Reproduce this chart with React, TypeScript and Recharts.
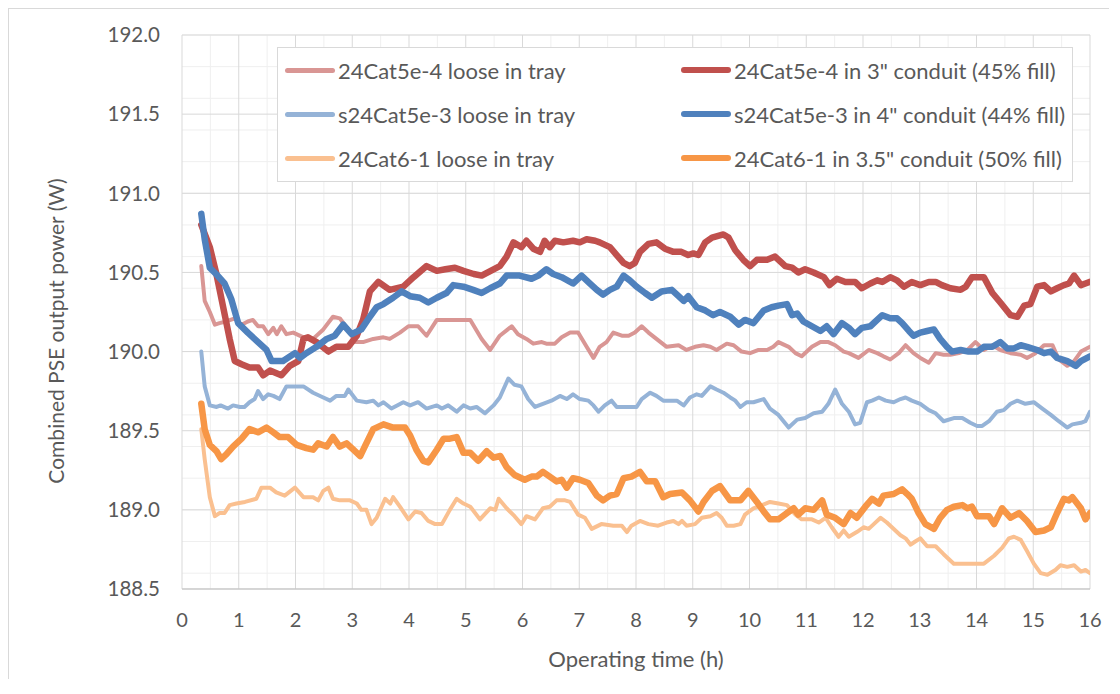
import React from 'react';
import { LineChart, Line, XAxis, YAxis, CartesianGrid, Legend, Label } from 'recharts';

// time (h) and combined PSE output power (W), read per series
const loose5e4Time = [0.34, 0.4, 0.49, 0.58, 0.66, 0.78, 0.93, 1.05, 1.16, 1.25, 1.34, 1.43, 1.52, 1.61, 1.67, 1.75, 1.84, 1.96, 2.14, 2.31, 2.49, 2.66, 2.78, 2.93, 3.05, 3.19, 3.37, 3.55, 3.66, 3.84, 3.99, 4.16, 4.31, 4.49, 4.78, 5.08, 5.28, 5.43, 5.6, 5.81, 5.92, 6.07, 6.19, 6.34, 6.42, 6.57, 6.69, 6.84, 6.98, 7.13, 7.25, 7.36, 7.48, 7.6, 7.75, 7.87, 7.98, 8.1, 8.22, 8.36, 8.54, 8.75, 8.89, 9.04, 9.19, 9.31, 9.42, 9.6, 9.72, 9.86, 10.01, 10.16, 10.31, 10.42, 10.51, 10.69, 10.81, 10.92, 11.1, 11.25, 11.39, 11.51, 11.66, 11.75, 11.92, 12.1, 12.25, 12.36, 12.48, 12.63, 12.75, 12.89, 13.01, 13.16, 13.28, 13.42, 13.54, 13.69, 13.84, 13.98, 14.13, 14.28, 14.42, 14.6, 14.78, 14.89, 15.04, 15.19, 15.34, 15.45, 15.6, 15.72, 15.84, 16.0];
const loose5e4Power = [190.54, 190.32, 190.25, 190.17, 190.18, 190.19, 190.21, 190.17, 190.19, 190.2, 190.16, 190.16, 190.11, 190.15, 190.11, 190.16, 190.11, 190.12, 190.09, 190.08, 190.14, 190.22, 190.21, 190.14, 190.06, 190.06, 190.08, 190.09, 190.08, 190.12, 190.16, 190.16, 190.1, 190.2, 190.2, 190.2, 190.08, 190.01, 190.1, 190.16, 190.11, 190.08, 190.05, 190.06, 190.05, 190.05, 190.09, 190.12, 190.12, 190.03, 189.96, 190.03, 190.06, 190.12, 190.1, 190.1, 190.12, 190.16, 190.12, 190.08, 190.03, 190.04, 190.01, 190.03, 190.04, 190.03, 190.01, 190.05, 190.04, 190.0, 189.99, 190.01, 190.01, 190.03, 190.06, 190.03, 189.99, 189.97, 190.03, 190.06, 190.06, 190.04, 190.0, 189.99, 189.96, 190.01, 189.99, 189.97, 189.95, 189.99, 190.04, 189.99, 189.96, 189.93, 189.99, 189.98, 189.98, 189.99, 190.01, 190.06, 190.01, 190.04, 190.01, 189.99, 189.98, 189.96, 189.99, 190.04, 190.04, 189.95, 189.91, 189.94, 190.0, 190.03];

const conduit5e4Time = [0.34, 0.49, 0.6, 0.72, 0.84, 0.93, 1.05, 1.19, 1.34, 1.43, 1.55, 1.75, 1.9, 2.05, 2.14, 2.22, 2.37, 2.58, 2.72, 2.93, 3.08, 3.19, 3.31, 3.46, 3.66, 3.9, 4.08, 4.31, 4.49, 4.64, 4.81, 4.96, 5.14, 5.28, 5.49, 5.6, 5.72, 5.84, 5.98, 6.07, 6.19, 6.31, 6.39, 6.48, 6.57, 6.72, 6.89, 7.01, 7.13, 7.28, 7.36, 7.54, 7.66, 7.78, 7.89, 7.98, 8.07, 8.22, 8.36, 8.51, 8.66, 8.8, 8.92, 9.01, 9.1, 9.22, 9.34, 9.54, 9.63, 9.75, 9.89, 10.01, 10.13, 10.31, 10.45, 10.57, 10.63, 10.75, 10.86, 10.98, 11.13, 11.31, 11.41, 11.54, 11.69, 11.86, 11.98, 12.13, 12.25, 12.34, 12.48, 12.6, 12.72, 12.86, 13.01, 13.16, 13.28, 13.39, 13.54, 13.72, 13.81, 13.92, 14.13, 14.28, 14.42, 14.6, 14.72, 14.84, 14.95, 15.07, 15.19, 15.31, 15.42, 15.54, 15.63, 15.72, 15.84, 15.92, 16.0];
const conduit5e4Power = [190.8, 190.66, 190.5, 190.29, 190.08, 189.94, 189.92, 189.9, 189.9, 189.85, 189.88, 189.85, 189.91, 189.94, 190.08, 190.09, 190.06, 190.0, 190.03, 190.03, 190.1, 190.2, 190.38, 190.44, 190.39, 190.41, 190.47, 190.54, 190.51, 190.52, 190.53, 190.51, 190.49, 190.48, 190.52, 190.54, 190.6, 190.69, 190.66, 190.7, 190.65, 190.63, 190.7, 190.66, 190.7, 190.69, 190.7, 190.69, 190.71, 190.7, 190.69, 190.66, 190.61, 190.56, 190.54, 190.56, 190.63, 190.68, 190.69, 190.65, 190.63, 190.63, 190.61, 190.62, 190.61, 190.69, 190.72, 190.74, 190.72, 190.64, 190.58, 190.54, 190.58, 190.58, 190.6, 190.56, 190.54, 190.53, 190.5, 190.52, 190.5, 190.47, 190.42, 190.46, 190.44, 190.44, 190.4, 190.43, 190.45, 190.44, 190.47, 190.45, 190.41, 190.44, 190.42, 190.44, 190.44, 190.42, 190.4, 190.39, 190.41, 190.47, 190.47, 190.37, 190.31, 190.23, 190.22, 190.29, 190.3, 190.41, 190.42, 190.38, 190.4, 190.42, 190.43, 190.48, 190.42, 190.43, 190.44];

const loose5e3Time = [0.34, 0.4, 0.49, 0.61, 0.68, 0.81, 0.9, 1.02, 1.1, 1.19, 1.28, 1.34, 1.43, 1.52, 1.61, 1.72, 1.84, 2.14, 2.31, 2.49, 2.61, 2.72, 2.87, 2.93, 3.08, 3.25, 3.37, 3.46, 3.55, 3.69, 3.9, 4.02, 4.16, 4.31, 4.49, 4.58, 4.69, 4.84, 4.96, 5.08, 5.19, 5.34, 5.49, 5.6, 5.75, 5.86, 5.98, 6.1, 6.22, 6.36, 6.51, 6.66, 6.78, 6.89, 7.01, 7.16, 7.25, 7.34, 7.45, 7.57, 7.66, 8.01, 8.1, 8.25, 8.36, 8.48, 8.72, 8.84, 8.95, 9.07, 9.16, 9.31, 9.42, 9.54, 9.66, 9.75, 9.84, 9.95, 10.07, 10.25, 10.36, 10.51, 10.69, 10.84, 10.98, 11.13, 11.28, 11.39, 11.51, 11.63, 11.75, 11.86, 11.95, 12.07, 12.16, 12.28, 12.4, 12.54, 12.66, 12.75, 12.86, 13.01, 13.16, 13.28, 13.42, 13.6, 13.75, 13.89, 14.01, 14.1, 14.22, 14.36, 14.48, 14.6, 14.72, 14.86, 15.01, 15.16, 15.31, 15.45, 15.6, 15.69, 15.84, 15.92, 16.0];
const loose5e3Power = [190.0, 189.78, 189.66, 189.65, 189.66, 189.64, 189.66, 189.65, 189.65, 189.68, 189.7, 189.75, 189.7, 189.73, 189.72, 189.7, 189.78, 189.78, 189.74, 189.71, 189.69, 189.72, 189.72, 189.76, 189.69, 189.68, 189.69, 189.66, 189.68, 189.64, 189.68, 189.66, 189.68, 189.64, 189.66, 189.64, 189.66, 189.62, 189.66, 189.64, 189.65, 189.61, 189.66, 189.71, 189.83, 189.79, 189.78, 189.7, 189.65, 189.67, 189.69, 189.72, 189.7, 189.73, 189.7, 189.69, 189.66, 189.62, 189.66, 189.69, 189.65, 189.65, 189.7, 189.74, 189.72, 189.69, 189.69, 189.66, 189.71, 189.73, 189.72, 189.78, 189.76, 189.74, 189.71, 189.69, 189.65, 189.68, 189.68, 189.7, 189.64, 189.6, 189.52, 189.57, 189.58, 189.61, 189.62, 189.67, 189.76, 189.67, 189.62, 189.54, 189.55, 189.68, 189.69, 189.71, 189.69, 189.68, 189.7, 189.71, 189.69, 189.67, 189.63, 189.61, 189.56, 189.58, 189.58, 189.55, 189.53, 189.53, 189.56, 189.62, 189.63, 189.67, 189.69, 189.67, 189.68, 189.64, 189.6, 189.56, 189.52, 189.54, 189.55, 189.56, 189.62];

const conduit5e3Time = [0.34, 0.4, 0.49, 0.6, 0.75, 0.87, 0.99, 1.16, 1.34, 1.49, 1.58, 1.78, 1.99, 2.08, 2.19, 2.37, 2.55, 2.69, 2.84, 2.99, 3.16, 3.31, 3.43, 3.55, 3.72, 3.87, 4.02, 4.19, 4.34, 4.49, 4.66, 4.78, 4.96, 5.13, 5.28, 5.43, 5.6, 5.72, 5.95, 6.16, 6.28, 6.42, 6.54, 6.69, 6.89, 7.04, 7.19, 7.31, 7.42, 7.54, 7.66, 7.78, 7.89, 8.01, 8.16, 8.28, 8.45, 8.63, 8.75, 8.84, 8.92, 9.07, 9.22, 9.36, 9.48, 9.66, 9.81, 9.92, 10.07, 10.25, 10.39, 10.51, 10.66, 10.75, 10.84, 10.95, 11.1, 11.25, 11.36, 11.48, 11.63, 11.75, 11.86, 11.98, 12.13, 12.25, 12.34, 12.48, 12.6, 12.69, 12.81, 12.89, 13.01, 13.13, 13.25, 13.36, 13.48, 13.57, 13.72, 13.86, 14.01, 14.13, 14.28, 14.42, 14.54, 14.66, 14.78, 14.89, 15.07, 15.19, 15.31, 15.42, 15.6, 15.75, 15.84, 16.0];
const conduit5e3Power = [190.87, 190.71, 190.53, 190.49, 190.43, 190.33, 190.18, 190.12, 190.06, 190.01, 189.94, 189.94, 189.99, 189.96, 189.99, 190.03, 190.08, 190.1, 190.17, 190.11, 190.14, 190.22, 190.28, 190.3, 190.34, 190.38, 190.35, 190.34, 190.31, 190.34, 190.37, 190.42, 190.41, 190.39, 190.37, 190.4, 190.43, 190.48, 190.48, 190.46, 190.48, 190.52, 190.49, 190.47, 190.43, 190.48, 190.43, 190.39, 190.36, 190.39, 190.41, 190.48, 190.45, 190.41, 190.37, 190.34, 190.38, 190.39, 190.35, 190.32, 190.35, 190.28, 190.26, 190.23, 190.25, 190.22, 190.17, 190.2, 190.18, 190.26, 190.28, 190.29, 190.3, 190.23, 190.24, 190.19, 190.16, 190.13, 190.16, 190.11, 190.18, 190.15, 190.11, 190.15, 190.16, 190.2, 190.23, 190.21, 190.21, 190.18, 190.13, 190.1, 190.12, 190.13, 190.14, 190.08, 190.03, 190.0, 190.01, 190.0, 190.0, 190.03, 190.03, 190.06, 190.02, 190.02, 190.04, 190.03, 190.01, 189.99, 190.0, 189.96, 189.94, 189.91, 189.94, 189.97];

const loose6Time = [0.34, 0.4, 0.49, 0.58, 0.66, 0.75, 0.84, 0.96, 1.11, 1.31, 1.4, 1.55, 1.66, 1.81, 1.99, 2.14, 2.31, 2.4, 2.49, 2.58, 2.66, 2.78, 2.96, 3.08, 3.16, 3.25, 3.34, 3.43, 3.58, 3.67, 3.72, 3.84, 3.99, 4.11, 4.22, 4.34, 4.46, 4.58, 4.72, 4.84, 4.96, 5.08, 5.25, 5.43, 5.52, 5.58, 5.72, 5.86, 5.98, 6.07, 6.22, 6.36, 6.48, 6.6, 6.75, 6.84, 6.98, 7.1, 7.22, 7.39, 7.6, 7.75, 7.84, 7.92, 8.07, 8.22, 8.39, 8.54, 8.66, 8.75, 8.81, 8.89, 9.04, 9.16, 9.31, 9.42, 9.51, 9.6, 9.72, 9.84, 9.92, 10.07, 10.22, 10.36, 10.51, 10.66, 10.81, 10.92, 11.1, 11.22, 11.34, 11.45, 11.57, 11.66, 11.75, 11.89, 12.01, 12.1, 12.19, 12.31, 12.42, 12.57, 12.66, 12.75, 12.84, 12.92, 13.01, 13.13, 13.28, 13.42, 13.6, 13.75, 13.92, 14.13, 14.31, 14.45, 14.57, 14.66, 14.78, 14.89, 15.01, 15.13, 15.25, 15.39, 15.48, 15.6, 15.72, 15.84, 15.92, 16.0];
const loose6Power = [189.51, 189.32, 189.08, 188.96, 188.98, 188.98, 189.03, 189.04, 189.05, 189.07, 189.14, 189.14, 189.11, 189.09, 189.14, 189.08, 189.08, 189.06, 189.12, 189.14, 189.07, 189.06, 189.06, 189.04, 189.0, 189.0, 188.91, 188.95, 189.07, 189.04, 189.08, 189.02, 188.94, 188.99, 188.98, 188.93, 188.91, 188.91, 189.0, 189.07, 189.04, 189.02, 188.94, 189.01, 189.0, 189.07, 189.01, 188.96, 188.91, 188.96, 188.94, 189.01, 189.02, 189.06, 189.06, 189.05, 188.97, 188.95, 188.88, 188.91, 188.9, 188.9, 188.86, 188.9, 188.93, 188.91, 188.9, 188.92, 188.93, 188.91, 188.93, 188.9, 188.91, 188.95, 188.96, 188.98, 188.95, 188.9, 188.9, 188.91, 188.97, 189.01, 189.03, 189.05, 189.04, 189.03, 188.97, 188.94, 188.94, 188.92, 188.95, 188.89, 188.83, 188.87, 188.83, 188.86, 188.89, 188.88, 188.91, 188.95, 188.92, 188.87, 188.84, 188.82, 188.78, 188.8, 188.82, 188.77, 188.77, 188.72, 188.66, 188.66, 188.66, 188.66, 188.71, 188.76, 188.82, 188.83, 188.81, 188.74, 188.66, 188.6, 188.59, 188.62, 188.65, 188.64, 188.65, 188.61, 188.62, 188.6];

const conduit6Time = [0.34, 0.4, 0.49, 0.61, 0.69, 0.78, 0.9, 1.05, 1.19, 1.34, 1.49, 1.61, 1.72, 1.87, 2.02, 2.19, 2.31, 2.4, 2.55, 2.66, 2.78, 2.9, 3.02, 3.14, 3.22, 3.37, 3.55, 3.72, 3.93, 4.02, 4.13, 4.25, 4.34, 4.49, 4.61, 4.72, 4.84, 4.96, 5.08, 5.22, 5.37, 5.49, 5.61, 5.72, 5.86, 6.04, 6.16, 6.25, 6.36, 6.48, 6.6, 6.69, 6.78, 6.89, 7.01, 7.16, 7.31, 7.42, 7.54, 7.66, 7.78, 7.92, 8.07, 8.19, 8.34, 8.48, 8.6, 8.81, 8.95, 9.1, 9.19, 9.34, 9.48, 9.66, 9.84, 9.98, 10.13, 10.25, 10.36, 10.51, 10.66, 10.78, 10.86, 10.98, 11.13, 11.28, 11.36, 11.51, 11.66, 11.78, 11.89, 12.04, 12.16, 12.28, 12.36, 12.54, 12.69, 12.78, 12.86, 12.98, 13.1, 13.25, 13.36, 13.48, 13.6, 13.75, 13.84, 13.92, 14.01, 14.22, 14.31, 14.45, 14.6, 14.75, 14.89, 15.04, 15.19, 15.31, 15.42, 15.54, 15.63, 15.69, 15.84, 15.92, 16.0];
const conduit6Power = [189.67, 189.51, 189.41, 189.37, 189.32, 189.35, 189.4, 189.45, 189.51, 189.49, 189.52, 189.49, 189.46, 189.46, 189.41, 189.39, 189.38, 189.42, 189.4, 189.46, 189.4, 189.42, 189.38, 189.34, 189.4, 189.51, 189.54, 189.52, 189.52, 189.47, 189.38, 189.31, 189.3, 189.38, 189.45, 189.45, 189.46, 189.36, 189.36, 189.31, 189.37, 189.33, 189.34, 189.27, 189.22, 189.19, 189.21, 189.21, 189.24, 189.21, 189.18, 189.19, 189.14, 189.2, 189.19, 189.17, 189.09, 189.06, 189.09, 189.1, 189.2, 189.21, 189.24, 189.18, 189.18, 189.08, 189.1, 189.11, 189.06, 188.99, 189.05, 189.12, 189.15, 189.06, 189.06, 189.12, 189.05, 188.99, 188.94, 188.94, 188.98, 189.01, 188.97, 189.01, 189.0, 189.06, 188.97, 188.95, 188.91, 188.98, 188.95, 189.02, 189.07, 189.04, 189.09, 189.1, 189.13, 189.1, 189.07, 188.98, 188.91, 188.88, 188.95, 189.0, 189.02, 189.03, 189.01, 189.02, 188.96, 188.96, 188.91, 189.01, 188.95, 188.98, 188.93, 188.86, 188.87, 188.89, 188.98, 189.07, 189.06, 189.08, 189.01, 188.94, 188.98];

const xTicks = [0, 1, 2, 3, 4, 5, 6, 7, 8, 9, 10, 11, 12, 13, 14, 15, 16];
const yTicks = [188.5, 189, 189.5, 190, 190.5, 191, 191.5, 192];
const xMinor = xTicks.slice(0, -1).map((t) => t + 0.5);
const yMinor = Array.from({ length: 36 }, (_, i) => Math.round((188.5 + i * 0.1) * 10) / 10);

const series = [
  { key: 'l5e4', name: '24Cat5e-4 loose in tray', color: '#D99694', width: 4, time: loose5e4Time, power: loose5e4Power },
  { key: 'c5e4', name: '24Cat5e-4 in 3" conduit (45% fill)', color: '#C0504D', width: 6.5, time: conduit5e4Time, power: conduit5e4Power },
  { key: 'l5e3', name: 's24Cat5e-3 loose in tray', color: '#95B3D7', width: 4, time: loose5e3Time, power: loose5e3Power },
  { key: 'c5e3', name: 's24Cat5e-3 in 4" conduit (44% fill)', color: '#4F81BD', width: 6.5, time: conduit5e3Time, power: conduit5e3Power },
  { key: 'l6', name: '24Cat6-1 loose in tray', color: '#FAC090', width: 4, time: loose6Time, power: loose6Power },
  { key: 'c6', name: '24Cat6-1 in 3.5" conduit (50% fill)', color: '#F79646', width: 6.5, time: conduit6Time, power: conduit6Power },
];

const FONT = 'Lato, "Open Sans", sans-serif';
const TEXT = '#595959';

const LegendBox = () => {
  const left = series.filter((_, i) => i % 2 === 0);
  const right = series.filter((_, i) => i % 2 === 1);
  const col = (items: typeof series, x: number) =>
    items.map((s, i) => (
      <div
        key={s.key}
        style={{ position: 'absolute', left: x, top: 8 + i * 44, height: 28, display: 'flex', alignItems: 'center', whiteSpace: 'nowrap' }}
      >
        <span style={{ display: 'inline-block', width: 50, height: s.width > 5 ? 6 : 5, borderRadius: 3, background: s.color, marginRight: 3 }} />
        <span style={{ fontFamily: FONT, fontSize: 22, color: TEXT }}>{s.name}</span>
      </div>
    ));
  return (
    <div style={{ position: 'relative', width: 796, height: 135, background: '#fff', border: '1px solid #d9d9d9', boxSizing: 'border-box' }}>
      {col(left, 7)}
      {col(right, 403)}
    </div>
  );
};

export default function App() {
  return (
    <div style={{ width: 1100, height: 670, borderLeft: '1px solid #d9d9d9', borderTop: '1px solid #d9d9d9', background: '#fff' }}>
      <LineChart width={1100} height={668} margin={{ top: 26, right: 19, left: 0, bottom: 0 }}>
        <CartesianGrid stroke="#efefef" verticalValues={xMinor} horizontalValues={yMinor} />
        <CartesianGrid stroke="#d9d9d9" verticalValues={xTicks} horizontalValues={yTicks} />
        <XAxis
          type="number"
          dataKey="t"
          domain={[0, 16]}
          ticks={xTicks}
          allowDataOverflow
          height={88}
          axisLine={{ stroke: '#bfbfbf' }}
          tickLine={false}
          tickSize={0}
          tickMargin={24}
          tick={{ fill: TEXT, fontSize: 20, fontFamily: FONT }}
        >
          <Label
            content={() => (
              <text x={627} y={649} textAnchor="middle" dominantBaseline="central" fill={TEXT} fontSize={22} fontFamily={FONT}>
                Operating time (h)
              </text>
            )}
          />
        </XAxis>
        <YAxis
          type="number"
          domain={[188.5, 192]}
          ticks={yTicks}
          allowDataOverflow
          width={173}
          axisLine={false}
          tickLine={false}
          tickSize={0}
          tickMargin={22}
          tickFormatter={(v: number) => v.toFixed(1)}
          tick={{ fill: TEXT, fontSize: 20.5, fontFamily: FONT }}
        >
          <Label
            content={() => (
              <text
                x={46}
                y={322}
                transform="rotate(-90 46 322)"
                textAnchor="middle"
                dominantBaseline="central"
                fill={TEXT}
                fontSize={21}
                fontFamily={FONT}
              >
                Combined PSE output power (W)
              </text>
            )}
          />
        </YAxis>
        <Legend
          layout="horizontal"
          verticalAlign="middle"
          align="center"
          content={() => <LegendBox />}
          wrapperStyle={{ left: 268, top: 38, width: 796, height: 135 }}
        />
        {series.map((s) => (
          <Line
            key={s.key}
            name={s.name}
            data={s.time.map((t, i) => ({ t, v: s.power[i] }))}
            dataKey="v"
            stroke={s.color}
            strokeWidth={s.width}
            strokeLinejoin="round"
            strokeLinecap="round"
            dot={false}
            activeDot={false}
            isAnimationActive={false}
          />
        ))}
      </LineChart>
    </div>
  );
}
